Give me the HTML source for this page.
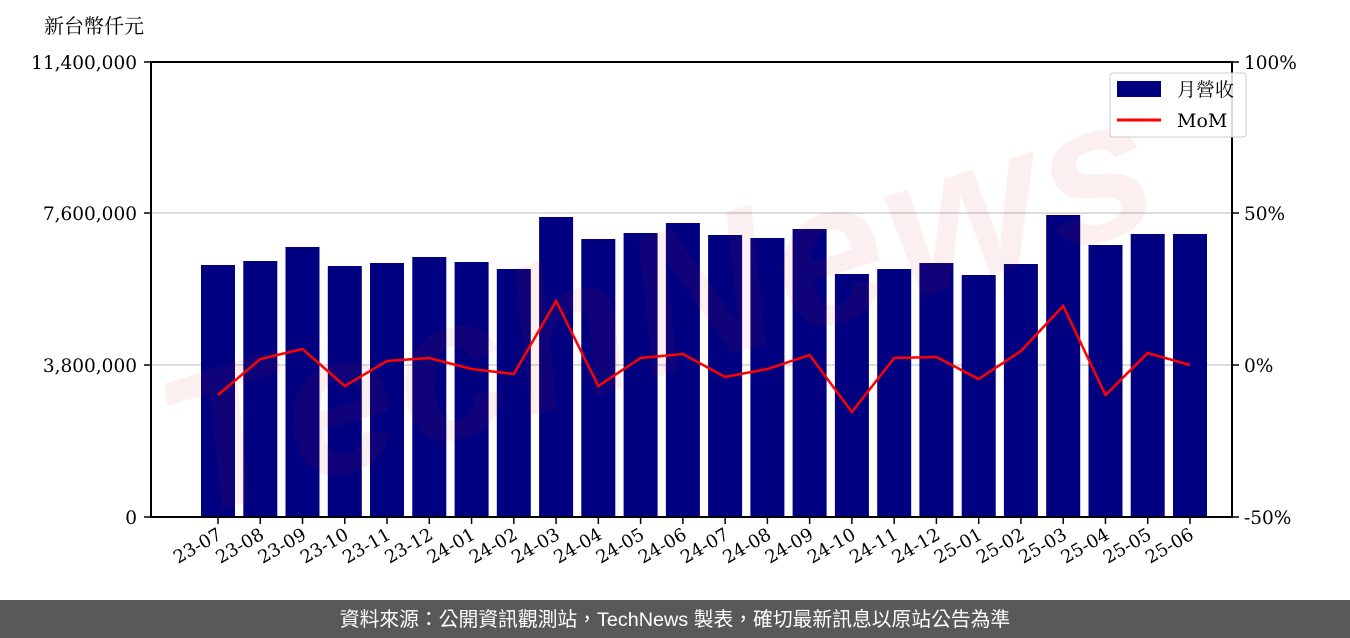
<!DOCTYPE html>
<html><head><meta charset="utf-8"><style>
body{margin:0;width:1350px;height:638px;background:#fff;overflow:hidden}
svg{display:block}
text{font-family:"DejaVu Serif","Noto Serif CJK SC",serif;fill:#000}
</style></head><body>
<svg width="1350" height="638" viewBox="0 0 1350 638">
<line x1="151" y1="213" x2="1232" y2="213" stroke="#d0d0d0" stroke-width="1.5"/>
<line x1="151" y1="365" x2="1232" y2="365" stroke="#d0d0d0" stroke-width="1.5"/>
<g fill="#000080">
<rect x="201" y="265" width="34" height="252"/>
<rect x="243.3" y="261" width="34" height="256"/>
<rect x="285.5" y="247" width="34" height="270"/>
<rect x="327.8" y="266" width="34" height="251"/>
<rect x="370" y="263" width="34" height="254"/>
<rect x="412.3" y="257" width="34" height="260"/>
<rect x="454.6" y="262" width="34" height="255"/>
<rect x="496.8" y="269" width="34" height="248"/>
<rect x="539.1" y="217" width="34" height="300"/>
<rect x="581.3" y="239" width="34" height="278"/>
<rect x="623.6" y="233" width="34" height="284"/>
<rect x="665.9" y="223" width="34" height="294"/>
<rect x="708.1" y="235" width="34" height="282"/>
<rect x="750.4" y="238" width="34" height="279"/>
<rect x="792.6" y="229" width="34" height="288"/>
<rect x="834.9" y="274" width="34" height="243"/>
<rect x="877.2" y="269" width="34" height="248"/>
<rect x="919.4" y="263" width="34" height="254"/>
<rect x="961.7" y="275" width="34" height="242"/>
<rect x="1003.9" y="264" width="34" height="253"/>
<rect x="1046.2" y="215" width="34" height="302"/>
<rect x="1088.5" y="245" width="34" height="272"/>
<rect x="1130.7" y="234" width="34" height="283"/>
<rect x="1173" y="234" width="34" height="283"/>
</g>
<polyline fill="none" stroke="#ff0000" stroke-width="2.5" points="218,395 260.3,359 302.5,349 344.8,386 387,361 429.3,358 471.6,369 513.8,374 556.1,301 598.3,386 640.6,358 682.9,354 725.1,377 767.4,369 809.6,355 851.9,412 894.2,358 936.4,357 978.7,379 1020.9,351 1063.2,306 1105.5,395 1147.7,353 1190,365"/>
<text x="680" y="370" text-anchor="middle" transform="rotate(-17 680 370)" style="font-family:'Liberation Sans',sans-serif;font-style:italic;font-weight:bold;font-size:200px;fill:rgba(210,40,40,0.075);letter-spacing:6px">TechNews</text>
<rect x="151" y="62" width="1081" height="455" fill="none" stroke="#000" stroke-width="2"/>
<g stroke="#000" stroke-width="1.5">
<line x1="144" y1="62" x2="151" y2="62"/><line x1="144" y1="213" x2="151" y2="213"/><line x1="144" y1="365" x2="151" y2="365"/><line x1="144" y1="517" x2="151" y2="517"/>
<line x1="1232" y1="62" x2="1239" y2="62"/><line x1="1232" y1="213" x2="1239" y2="213"/><line x1="1232" y1="365" x2="1239" y2="365"/><line x1="1232" y1="517" x2="1239" y2="517"/>
</g>
<g font-size="18.5" text-anchor="end">
<text x="137" y="69">11,400,000</text><text x="137" y="220">7,600,000</text><text x="137" y="372">3,800,000</text><text x="137" y="524">0</text>
</g>
<g font-size="18.5">
<text x="1244" y="69">100%</text><text x="1244" y="220">50%</text><text x="1244" y="372">0%</text><text x="1244" y="524">-50%</text>
</g>
<text x="44" y="33" font-size="20">新台幣仟元</text>
<g id="ticks" stroke="#000" stroke-width="1.5"></g>
<g font-size="18" text-anchor="end" id="xl"></g>
<rect x="1110" y="73" width="136" height="64" rx="3" fill="#fff" fill-opacity="0.85" stroke="#ccc"/>
<rect x="1117" y="81" width="44" height="16" fill="#000080"/>
<line x1="1117" y1="120" x2="1161" y2="120" stroke="#f00" stroke-width="3"/>
<text x="1177" y="96" font-size="19">月營收</text>
<text x="1177" y="127" font-size="19">MoM</text>
<rect x="0" y="600" width="1350" height="38" fill="#595959"/>
<text x="675" y="626" text-anchor="middle" style="font-family:'Liberation Sans','Noto Sans CJK TC',sans-serif;font-size:19.8px;fill:#fff">資料來源：公開資訊觀測站，TechNews 製表，確切最新訊息以原站公告為準</text>
</svg>
<script>
var labs=["23-07","23-08","23-09","23-10","23-11","23-12","24-01","24-02","24-03","24-04","24-05","24-06","24-07","24-08","24-09","24-10","24-11","24-12","25-01","25-02","25-03","25-04","25-05","25-06"];
var ns="http://www.w3.org/2000/svg",t=document.getElementById("ticks"),g=document.getElementById("xl");
labs.forEach(function(l,i){var x=218+i*42.26;
var ln=document.createElementNS(ns,"line");ln.setAttribute("x1",x);ln.setAttribute("x2",x);ln.setAttribute("y1",517);ln.setAttribute("y2",524);t.appendChild(ln);
var tx=document.createElementNS(ns,"text");tx.setAttribute("x",x+5);tx.setAttribute("y",538);tx.setAttribute("transform","rotate(-30 "+(x+5)+" 538)");tx.textContent=l;g.appendChild(tx);});
</script>
</body></html>
